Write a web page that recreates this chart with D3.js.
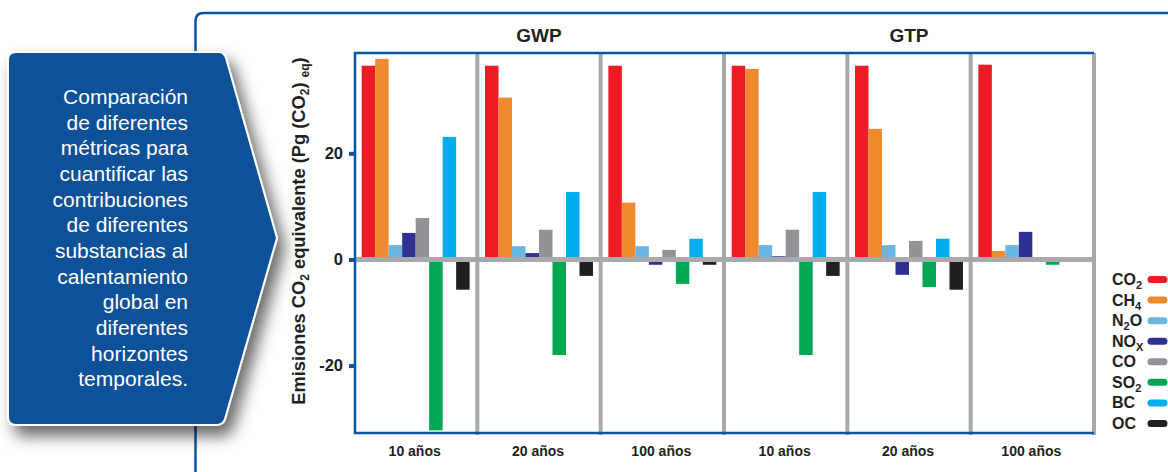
<!DOCTYPE html>
<html>
<head>
<meta charset="utf-8">
<script src="https://cdn.jsdelivr.net/npm/d3@7"></script>
<style>
  body { margin: 0; background: #fff; }
  svg { display: block; font-family: "Liberation Sans", Arial, sans-serif; }
</style>
</head>
<body>
<svg width="1168" height="472"></svg>
<script>

// data
let metrics = ['GWP', 'GTP'];
let horizons = ['10 años', '20 años', '100 años'];
let species = ['CO2', 'CH4', 'N2O', 'NOx', 'CO', 'SO2', 'BC', 'OC'];
let speciesLabels = [['CO', '2'], ['CH', '4'], ['N', '2', 'O'], ['NO', 'X'], ['CO'], ['SO', '2'], ['BC'], ['OC']];
let speciesColors = ['#ed1c24', '#ef8a2f', '#6ab6e2', '#2e3192', '#939299', '#00a651', '#00aeef', '#231f20'];

let gwp10  = [36.5, 37.8, 2.7, 5.0, 7.8, -32.2, 23.1, -5.7];
let gwp20  = [36.5, 30.5, 2.5, 1.2, 5.6, -18.0, 12.7, -3.1];
let gwp100 = [36.5, 10.7, 2.5, -1.0, 1.8, -4.6, 3.9, -1.0];
let gtp10  = [36.5, 35.9, 2.7, 0.6, 5.6, -18.0, 12.7, -3.1];
let gtp20  = [36.5, 24.6, 2.7, -2.9, 3.5, -5.2, 3.9, -5.7];
let gtp100 = [36.7, 1.6, 2.7, 5.2, 0, -1.0, 0, 0];

let yTicks = [20, 0, -20];

let calloutLines = ['Comparación', 'de diferentes', 'métricas para', 'cuantificar las',
  'contribuciones', 'de diferentes', 'substancias al', 'calentamiento',
  'global en', 'diferentes', 'horizontes', 'temporales.'];

let panels = [
  { metric: 'GWP', horizon: '10 años', values: gwp10 },
  { metric: 'GWP', horizon: '20 años', values: gwp20 },
  { metric: 'GWP', horizon: '100 años', values: gwp100 },
  { metric: 'GTP', horizon: '10 años', values: gtp10 },
  { metric: 'GTP', horizon: '20 años', values: gtp20 },
  { metric: 'GTP', horizon: '100 años', values: gtp100 }
];

drawChart();

function drawChart() {
  let svg = d3.select('svg');
  let blue = '#0b55a0';
  let grey = '#a7a9ac';
  let ink = '#231f20';

  let left = 354, right = 1094, top = 53, bottom = 433;

  let defs = svg.append('defs');
  defs.append('filter')
      .attr('id', 'shadow')
      .attr('x', '-20%').attr('y', '-20%')
      .attr('width', '150%').attr('height', '150%')
    .append('feDropShadow')
      .attr('dx', 7).attr('dy', 10)
      .attr('stdDeviation', 8)
      .attr('flood-color', '#000')
      .attr('flood-opacity', 0.6);

  // outer frame
  svg.append('path')
     .attr('d', 'M195.5,480 V21 Q195.5,13 203.5,13 H1175')
     .attr('fill', 'none')
     .attr('stroke', blue)
     .attr('stroke-width', 2.5);

  // scales
  let xMetric = d3.scaleBand()
                  .domain(metrics)
                  .range([left, right]);

  let xHorizon = d3.scaleBand()
                   .domain(horizons)
                   .range([0, xMetric.bandwidth()]);

  let xSpecies = d3.scaleBand()
                   .domain(species)
                   .range([0, xHorizon.bandwidth()])
                   .paddingInner(0)
                   .paddingOuter(0.57);

  let yScale = d3.scaleLinear()
                 .domain([-32.7, 38.9])
                 .range([bottom, top]);

  // bars
  let panelG = svg.append('g')
    .selectAll('g')
    .data(panels)
    .enter()
    .append('g')
    .attr('transform', function(d) {
      return 'translate(' + (xMetric(d.metric) + xHorizon(d.horizon)) + ',0)';
    });

  panelG.selectAll('rect')
    .data(function(d) { return d.values; })
    .enter()
    .append('rect')
    .attr('x', function(d, i) { return xSpecies(species[i]); })
    .attr('width', xSpecies.bandwidth())
    .attr('y', function(d) { return yScale(Math.max(0, d)); })
    .attr('height', function(d) { return Math.abs(yScale(d) - yScale(0)); })
    .attr('fill', function(d, i) { return speciesColors[i]; });

  // grey separators and zero line
  let seps = [];
  panels.forEach(function(p, i) {
    if (i > 0) seps.push(xMetric(p.metric) + xHorizon(p.horizon));
  });
  seps.push(right);

  svg.append('line')
     .attr('x1', left).attr('x2', right)
     .attr('y1', yScale(0)).attr('y2', yScale(0))
     .attr('stroke', grey)
     .attr('stroke-width', 5);

  svg.append('g')
     .selectAll('line')
     .data(seps)
     .enter()
     .append('line')
     .attr('x1', function(d) { return d; })
     .attr('x2', function(d) { return d; })
     .attr('y1', top)
     .attr('y2', bottom + 2)
     .attr('stroke', grey)
     .attr('stroke-width', 4);

  // blue frame of plot
  svg.append('path')
     .attr('d', 'M' + right + ',' + top + ' H' + (left + 1) + ' V' + bottom + ' H' + right)
     .attr('fill', 'none')
     .attr('stroke', blue)
     .attr('stroke-width', 2.5);

  // y axis
  let yAxis = d3.axisLeft(yScale)
                .tickValues(yTicks)
                .tickFormat(function(d) { return String(d); })
                .tickSize(6)
                .tickPadding(6);

  let yAxisG = svg.append('g')
     .attr('transform', 'translate(' + (left + 1) + ',0)')
     .call(yAxis);

  yAxisG.select('.domain').remove();
  yAxisG.selectAll('.tick line')
        .attr('stroke', blue)
        .attr('stroke-width', 4);
  yAxisG.selectAll('.tick text')
        .attr('fill', ink)
        .style('font-size', '16.5px')
        .style('font-weight', 'bold')
        .style('font-family', '"Liberation Sans", Arial, sans-serif');

  // x labels
  panels.forEach(function(p) {
    svg.append('text')
       .attr('x', xMetric(p.metric) + xHorizon(p.horizon) + xHorizon.bandwidth() / 2 - 1)
       .attr('y', 456)
       .attr('text-anchor', 'middle')
       .attr('fill', ink)
       .style('font-size', '14px')
       .style('font-weight', 'bold')
       .text(p.horizon);
  });

  // titles
  svg.append('g')
     .selectAll('text')
     .data(metrics)
     .enter()
     .append('text')
     .attr('x', function(d) { return xMetric(d) + xMetric.bandwidth() / 2; })
     .attr('y', 41.5)
     .attr('text-anchor', 'middle')
     .attr('fill', ink)
     .style('font-size', '19px')
     .style('font-weight', 'bold')
     .text(function(d) { return d; });

  // y title
  let yTitle = svg.append('text')
     .attr('transform', 'translate(305,231) rotate(-90)')
     .attr('text-anchor', 'middle')
     .attr('fill', ink)
     .style('font-size', '18.3px')
     .style('font-weight', 'bold');
  yTitle.append('tspan').text('Emisiones CO');
  yTitle.append('tspan').attr('dy', 4).style('font-size', '12px').text('2');
  yTitle.append('tspan').attr('dy', -4).text(' equivalente (Pg (CO');
  yTitle.append('tspan').attr('dy', 4).style('font-size', '12px').text('2');
  yTitle.append('tspan').attr('dy', -4).text(') ');
  yTitle.append('tspan').attr('dy', 4).style('font-size', '12px').text('eq');
  yTitle.append('tspan').attr('dy', -4).text(')');

  // legend
  let yLegend = d3.scalePoint()
                  .domain(species)
                  .range([279.5, 423.5]);

  let legendG = svg.append('g')
    .selectAll('g')
    .data(species)
    .enter()
    .append('g')
    .attr('transform', function(d) { return 'translate(0,' + yLegend(d) + ')'; });

  legendG.append('rect')
    .attr('x', 1147.5)
    .attr('y', -3.5)
    .attr('width', 20)
    .attr('height', 7)
    .attr('rx', 3.5)
    .attr('fill', function(d, i) { return speciesColors[i]; });

  legendG.append('text')
    .attr('x', 1112)
    .attr('y', 5.5)
    .attr('fill', ink)
    .style('font-size', '16px')
    .style('font-weight', 'bold')
    .each(function(d, i) {
      let t = d3.select(this);
      speciesLabels[i].forEach(function(part, k) {
        if (k % 2 == 0) {
          t.append('tspan').attr('dy', k == 0 ? 0 : -4).text(part);
        } else {
          t.append('tspan').attr('dy', 4).style('font-size', '11px').text(part);
        }
      });
    });

  // callout box
  let callout = svg.append('g');
  callout.append('path')
     .attr('d', 'M16,52 H218 Q224,52 226,58 L277,238 L225,419 Q223,425 216,425 H16 Q8,425 8,417 V60 Q8,52 16,52 Z')
     .attr('fill', '#0b5198')
     .attr('stroke', '#fff')
     .attr('stroke-width', 2)
     .attr('filter', 'url(#shadow)');

  callout.append('g')
     .selectAll('text')
     .data(calloutLines)
     .enter()
     .append('text')
     .attr('x', 188)
     .attr('y', function(d, i) { return 104 + i * 25.65; })
     .attr('text-anchor', 'end')
     .attr('fill', '#fff')
     .style('font-size', '21px')
     .text(function(d) { return d; });
}

</script>
</body>
</html>
